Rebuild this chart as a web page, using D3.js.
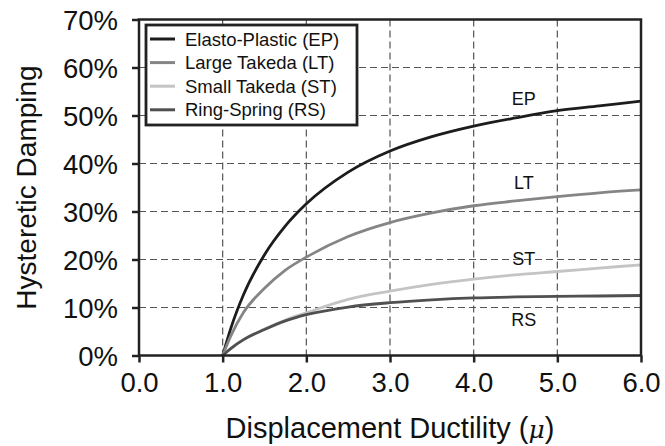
<!DOCTYPE html>
<head>
<style>
body { margin: 0; background: #fff; }
svg { font-family: "Liberation Sans", Arial, sans-serif; }
</style>
<script src="https://d3js.org/d3.v7.min.js"></script>
</head>
<body>
<svg id="chart" width="665" height="446"></svg>
<script>

var width = 665;
var height = 446;

// ductility values where the curves were read
var mu = [1.0, 1.1, 1.25, 1.5, 1.75, 2.0, 2.5, 3.0, 3.5, 4.0, 4.5, 5.0, 5.5, 6.0];

// damping in %
var epValues = [0, 5.8, 12.7, 21.0, 27.0, 31.6, 38.2, 42.6, 45.6, 47.8, 49.5, 51.0, 52.0, 53.0];
var ltValues = [0, 4.2, 9.0, 14.0, 17.8, 20.5, 24.8, 27.7, 29.7, 31.2, 32.2, 33.1, 33.9, 34.5];
var stValues = [0, 1.5, 3.3, 5.5, 7.4, 8.9, 11.7, 13.4, 14.8, 15.9, 16.8, 17.5, 18.2, 18.9];
var rsValues = [0, 1.5, 3.3, 5.4, 7.2, 8.5, 10.1, 11.0, 11.6, 12.0, 12.2, 12.3, 12.4, 12.5];

var seriesNames = ["Elasto-Plastic (EP)", "Large Takeda (LT)", "Small Takeda (ST)", "Ring-Spring (RS)"];
var seriesShort = ["EP", "LT", "ST", "RS"];
var seriesColors = ["#1c1c1c", "#858585", "#c4c4c4", "#505050"];
var seriesData = [epValues, ltValues, stValues, rsValues];

var xTicks = [0, 1, 2, 3, 4, 5, 6];
var yTicks = [0, 10, 20, 30, 40, 50, 60, 70];

// where the short labels sit next to each curve
var labelMu = [4.6, 4.6, 4.6, 4.6];
var labelPct = [53.6, 36.1, 20.3, 7.6];

var margin = {left: 139, right: 24, top: 19.5, bottom: 90.5};

var x = d3.scaleLinear().domain([0, 6]).range([margin.left, width - margin.right]);
var y = d3.scaleLinear().domain([0, 70]).range([height - margin.bottom, margin.top]);

var svg = d3.select("#chart");

// dashed grid
svg.append("g").selectAll("line.vg")
    .data(xTicks.slice(1, -1))
    .enter().append("line")
    .attr("x1", function(d) { return x(d); })
    .attr("x2", function(d) { return x(d); })
    .attr("y1", y(70)).attr("y2", y(0))
    .style("stroke", "#555").style("stroke-width", 1.2)
    .style("stroke-dasharray", "7,4");

svg.append("g").selectAll("line.hg")
    .data(yTicks.slice(1, -1))
    .enter().append("line")
    .attr("y1", function(d) { return y(d); })
    .attr("y2", function(d) { return y(d); })
    .attr("x1", x(0)).attr("x2", x(6))
    .style("stroke", "#555").style("stroke-width", 1.2)
    .style("stroke-dasharray", "7,4");

// axes
var xAxis = d3.axisBottom(x).tickValues(xTicks).tickFormat(d3.format(".1f")).tickSize(7).tickPadding(10);
var yAxis = d3.axisLeft(y).tickValues(yTicks).tickFormat(function(d) { return d + "%"; }).tickSize(7).tickPadding(14);

var gx = svg.append("g").attr("transform", "translate(0," + y(0) + ")").call(xAxis);
var gy = svg.append("g").attr("transform", "translate(" + x(0) + ",0)").call(yAxis);

[gx, gy].forEach(function(g) {
    g.select(".domain").remove();
    g.selectAll(".tick line").style("stroke", "#222").style("stroke-width", 2.5);
    g.selectAll(".tick text").style("font-size", "27.5px").style("fill", "#111")
        .style("font-family", "'Liberation Sans', Arial, sans-serif");
});
gy.selectAll(".tick text").attr("dy", "0.36em");

// curves
var line = d3.line()
    .x(function(d) { return x(d[0]); })
    .y(function(d) { return y(d[1]); })
    .curve(d3.curveMonotoneX);

seriesData.forEach(function(vals, i) {
    var pts = mu.map(function(m, j) { return [m, vals[j]]; });
    svg.append("path")
        .attr("d", line(pts))
        .style("fill", "none")
        .style("stroke", seriesColors[i])
        .style("stroke-width", 2.8);
    svg.append("text")
        .attr("x", x(labelMu[i]))
        .attr("y", y(labelPct[i]))
        .attr("text-anchor", "middle")
        .attr("dy", "0.36em")
        .style("font-size", "18px")
        .style("fill", "#111")
        .text(seriesShort[i]);
});

// plot frame
svg.append("rect")
    .attr("x", x(0)).attr("y", y(70))
    .attr("width", x(6) - x(0)).attr("height", y(0) - y(70))
    .style("fill", "none").style("stroke", "#222").style("stroke-width", 2.5);

// legend
var legend = svg.append("g");
legend.append("rect")
    .attr("x", 146).attr("y", 25).attr("width", 211).attr("height", 100)
    .style("fill", "#fff").style("stroke", "#222").style("stroke-width", 2.8);

seriesNames.forEach(function(name, i) {
    var ly = 39 + i * 23.6;
    legend.append("line")
        .attr("x1", 150).attr("x2", 175).attr("y1", ly).attr("y2", ly)
        .style("stroke", seriesColors[i]).style("stroke-width", 3);
    legend.append("text")
        .attr("x", 185).attr("y", ly).attr("dy", "0.36em")
        .style("font-size", "18.5px").style("fill", "#111")
        .text(name);
});

// axis titles
svg.append("text")
    .attr("x", x(3)).attr("y", 438)
    .attr("text-anchor", "middle")
    .style("font-size", "29px").style("fill", "#111")
    .text("Displacement Ductility (")
    .append("tspan").style("font-style", "italic").style("font-family", "'DejaVu Serif', serif").style("font-size", "25px").text("μ")
    .select(function() { return this.parentNode; })
    .append("tspan").text(")");

svg.append("text")
    .attr("transform", "translate(36," + y(35) + ") rotate(-90)")
    .attr("text-anchor", "middle")
    .style("font-size", "28px").style("fill", "#111")
    .text("Hysteretic Damping");

</script>
</body>
</html>
